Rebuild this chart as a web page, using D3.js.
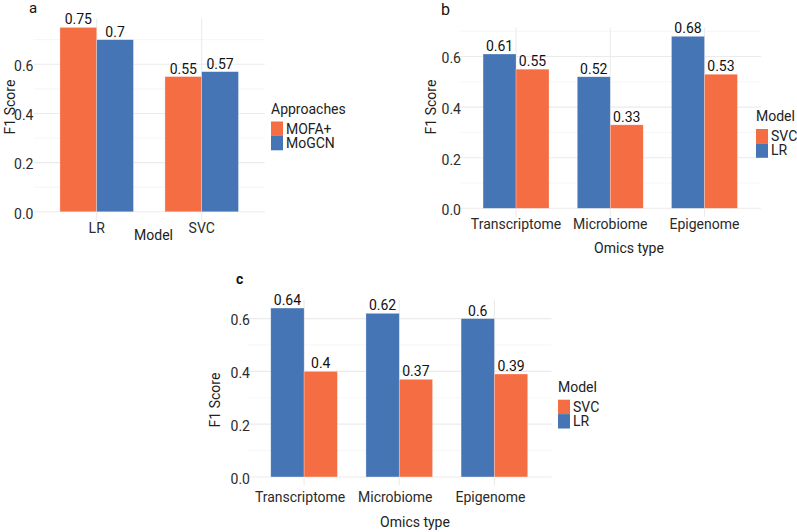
<!DOCTYPE html>
<html>
<head>
<meta charset="utf-8">
<script src="https://cdn.jsdelivr.net/npm/d3@7"></script>
<style>
  body { margin: 0; background: #fff; }
  text { font-family: Roboto, 'Noto Sans', sans-serif; }
</style>
</head>
<body>
<div id="chart"></div>
<script>
// data
const modelsA = ['LR', 'SVC']
const approachesA = ['MOFA+', 'MoGCN']
const mofaA = [0.75, 0.55]
const mogcnA = [0.7, 0.57]

const omicsTypes = ['Transcriptome', 'Microbiome', 'Epigenome']
const lrB = [0.61, 0.52, 0.68]
const svcB = [0.55, 0.33, 0.53]
const lrC = [0.64, 0.62, 0.6]
const svcC = [0.4, 0.37, 0.39]

const yTicks = [0, 0.2, 0.4, 0.6]
const yMinor = [0.1, 0.3, 0.5, 0.7]

const ORANGE = '#F46D43'
const BLUE = '#4575B4'

const svg = d3.select('#chart').append('svg')
  .attr('width', 797)
  .attr('height', 532)

function drawPanel(cfg) {
  const { cats, series, legend, left, right, top, bottom } = cfg
  const g = svg.append('g')

  const maxV = d3.max(series, s => d3.max(s.values))
  const y = d3.scaleLinear()
    .domain([-0.05 * maxV, 1.05 * maxV])
    .range([bottom, top])

  const x = d3.scalePoint().domain(cats).range([left, right]).padding(0.6)
  const step = x.step()
  const inner = d3.scaleBand()
    .domain(series.map(s => s.name))
    .range([-0.35 * step, 0.35 * step])

  // grid
  g.selectAll('.minor').data(yMinor.filter(v => y(v) >= top)).join('line')
    .attr('x1', left).attr('x2', right)
    .attr('y1', d => y(d)).attr('y2', d => y(d))
    .attr('stroke', '#f0f0f0').attr('stroke-width', 0.6)
  g.selectAll('.major').data(yTicks).join('line')
    .attr('x1', left).attr('x2', right)
    .attr('y1', d => y(d)).attr('y2', d => y(d))
    .attr('stroke', '#ebebeb').attr('stroke-width', 1.1)
  g.selectAll('.vgrid').data(cats).join('line')
    .attr('x1', d => x(d)).attr('x2', d => x(d))
    .attr('y1', top).attr('y2', bottom)
    .attr('stroke', '#ebebeb').attr('stroke-width', 1.1)

  // bars + value labels
  series.forEach(s => {
    g.selectAll(null).data(cats).join('rect')
      .attr('x', (d, i) => x(d) + inner(s.name))
      .attr('y', (d, i) => y(s.values[i]))
      .attr('width', inner.bandwidth())
      .attr('height', (d, i) => y(0) - y(s.values[i]))
      .attr('fill', s.color)
      .attr('stroke', '#ffffff')
      .attr('stroke-opacity', 0.45)
      .attr('stroke-width', 0.6)
    g.selectAll(null).data(cats).join('text')
      .attr('x', (d, i) => x(d) + inner(s.name) + inner.bandwidth() / 2)
      .attr('y', (d, i) => y(s.values[i]) - 3)
      .attr('text-anchor', 'middle')
      .style('font-size', '14px')
      .attr('fill', '#111')
      .text((d, i) => s.values[i])
  })

  // y axis labels
  const ya = g.append('g')
    .attr('transform', `translate(${cfg.yLabelX},0)`)
    .call(d3.axisLeft(y).tickValues(yTicks).tickFormat(d3.format('.1f')).tickSize(0).tickPadding(0))
  ya.select('.domain').remove()
  ya.selectAll('text')
    .attr('dy', '0.45em')
    .style('font-size', '14px')
    .style('font-family', 'Roboto, sans-serif')
    .attr('fill', '#2b2b2b')

  // x axis labels
  g.selectAll(null).data(cats).join('text')
    .attr('x', d => x(d) + (cfg.xLabelShift || 0))
    .attr('y', cfg.xLabelY)
    .attr('text-anchor', 'middle')
    .style('font-size', '14px')
    .attr('fill', '#2b2b2b')
    .text(d => d)

  // axis titles
  g.append('text')
    .attr('x', cfg.xTitle[0]).attr('y', cfg.xTitle[1])
    .attr('text-anchor', 'middle')
    .style('font-size', '14px')
    .attr('fill', '#222')
    .text(cfg.xTitleText)
  g.append('text')
    .attr('transform', `translate(${cfg.yTitle[0]},${cfg.yTitle[1]}) rotate(-90)`)
    .attr('text-anchor', 'middle')
    .attr('dy', '0.35em')
    .style('font-size', '14px')
    .attr('fill', '#222')
    .text('F1 Score')

  // panel letter
  g.append('text')
    .attr('x', cfg.letter[0]).attr('y', cfg.letter[1])
    .style('font-size', cfg.letterSize)
    .style('font-weight', cfg.letterWeight || 'normal')
    .attr('fill', '#111')
    .text(cfg.letterText)

  // legend
  const lg = g.append('g').attr('transform', `translate(${legend.x},${legend.y})`)
  lg.append('text').attr('y', 0)
    .style('font-size', '14px').attr('fill', '#222')
    .text(legend.title)
  legend.order.forEach((name, i) => {
    const s = series.find(t => t.name === name)
    lg.append('rect')
      .attr('x', 0).attr('y', 8 + i * 14.4)
      .attr('width', 12).attr('height', 14.4)
      .attr('fill', s.color)
    lg.append('text')
      .attr('x', 15).attr('y', 8 + i * 14.4 + 12)
      .style('font-size', '14px').attr('fill', '#222')
      .text(name)
  })
}

drawPanel({
  cats: modelsA,
  series: [
    { name: approachesA[0], values: mofaA, color: ORANGE },
    { name: approachesA[1], values: mogcnA, color: BLUE }
  ],
  legend: { x: 271, y: 113.5, title: 'Approaches', order: approachesA },
  left: 33.7, right: 264.7, top: 18.2, bottom: 221,
  yLabelX: 33.5, xLabelY: 233, xTitle: [153.5, 240], xTitleText: 'Model',
  yTitle: [10, 107], letter: [29, 13], letterText: 'a', letterSize: '15px'
})

drawPanel({
  cats: omicsTypes,
  series: [
    { name: 'LR', values: lrB, color: BLUE },
    { name: 'SVC', values: svcB, color: ORANGE }
  ],
  legend: { x: 756, y: 121, title: 'Model', order: ['SVC', 'LR'] },
  left: 459.5, right: 761, top: 27.7, bottom: 216.9,
  yLabelX: 461, xLabelY: 228.5, xTitle: [629, 252.7], xTitleText: 'Omics type',
  yTitle: [431.5, 107], letter: [441, 15], letterText: 'b', letterSize: '16px'
})

drawPanel({
  cats: omicsTypes,
  series: [
    { name: 'LR', values: lrC, color: BLUE },
    { name: 'SVC', values: svcC, color: ORANGE }
  ],
  legend: { x: 558, y: 391.7, title: 'Model', order: ['SVC', 'LR'] },
  left: 247, right: 551.5, top: 299.6, bottom: 485.4,
  yLabelX: 250, xLabelY: 501.7, xLabelShift: -4, xTitle: [415, 526.7], xTitleText: 'Omics type',
  yTitle: [215, 400], letter: [236, 284], letterText: 'c', letterSize: '14px', letterWeight: 'bold'
})
</script>
</body>
</html>
